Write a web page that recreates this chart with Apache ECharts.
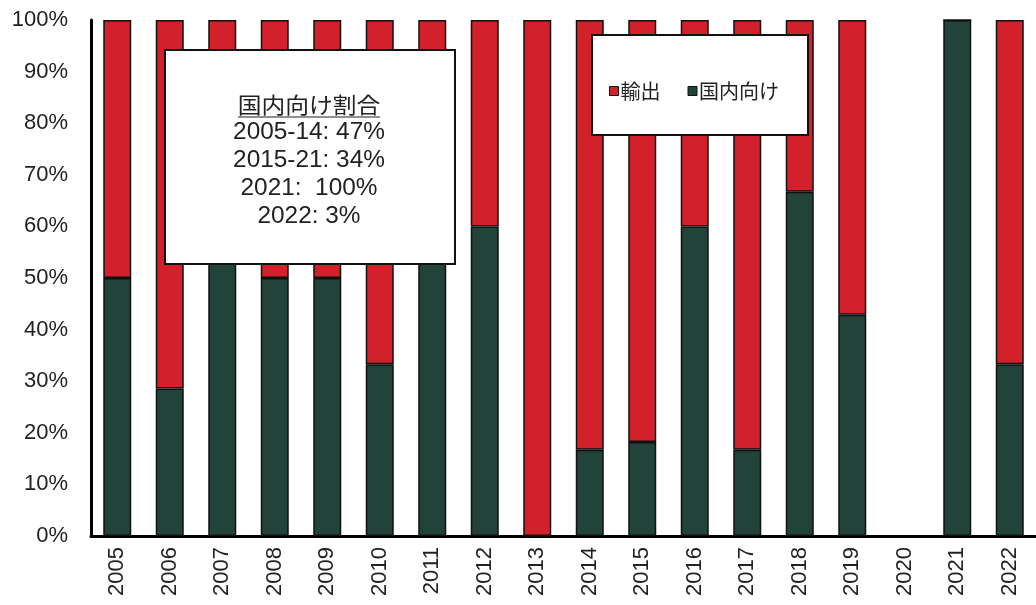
<!DOCTYPE html>
<html>
<head>
<meta charset="utf-8">
<script src="https://cdn.jsdelivr.net/npm/echarts@6/dist/echarts.min.js"></script>
<style>html,body{margin:0;padding:0;background:#fff}#c{width:1036px;height:605px}</style>
</head>
<body>
<div id="c"></div>
<script>
const categories = ['2005','2006','2007','2008','2009','2010','2011','2012','2013','2014','2015','2016','2017','2018','2019','2020','2021','2022'];
const domestic = [50, 28.6, 66.7, 50, 50, 33.3, 75, 60, 0, 16.7, 18.2, 60, 16.7, 66.7, 42.9, null, 100, 33.3];
const exportShare = [50, 71.4, 33.3, 50, 50, 66.7, 25, 40, 100, 83.3, 81.8, 40, 83.3, 33.3, 57.1, null, 0, 66.7];
const yTicks = [0, 10, 20, 30, 40, 50, 60, 70, 80, 90, 100];
const boxTitle = '国内向け割合';
const boxLines = ['2005-14: 47%', '2015-21: 34%', '2021:  100%', '2022: 3%'];

const RED = '#d2212a';
const GREEN = '#21433a';
const FONT = '"Liberation Sans", Arial, sans-serif';
const CJK = '"Noto Sans CJK JP", sans-serif';

const chart = echarts.init(document.getElementById('c'), null, {renderer: 'canvas'});

const graphics = [
  {type: 'rect', z: 100, shape: {x: 165, y: 50, width: 290, height: 214},
   style: {fill: '#fff', stroke: '#111', lineWidth: 2}},
  {type: 'text', z: 101, x: 309, y: 105, scaleX: 1.08,
   style: {text: boxTitle, x: 0, y: 0, align: 'center', verticalAlign: 'middle',
   font: '22px ' + CJK, fill: '#222'}},
  {type: 'line', z: 101, shape: {x1: 238, y1: 117, x2: 380, y2: 117}, style: {stroke: '#222', lineWidth: 1.2}},
  {type: 'rect', z: 100, shape: {x: 592, y: 35, width: 216, height: 100},
   style: {fill: '#fff', stroke: '#111', lineWidth: 2}}
];
boxLines.forEach((t, i) => {
  graphics.push({type: 'text', z: 101, x: 309, y: 133 + i * 28, scaleX: 1.06,
    style: {text: t, x: 0, y: 0, align: 'center',
    verticalAlign: 'middle', font: '23px ' + FONT, fill: '#222'}});
});

chart.setOption({
  animation: false,
  backgroundColor: '#fff',
  grid: {left: 91, right: -7, top: 20, bottom: 69, containLabel: false},
  legend: {
    data: ['輸出', '国内向け'],
    left: 604, top: 76,
    icon: 'rect', itemWidth: 9, itemHeight: 9, itemGap: 27,
    itemStyle: {borderColor: '#111', borderWidth: 1},
    textStyle: {fontFamily: CJK, fontSize: 20, color: '#222', padding: [0, 0, 0, -3]},
    z: 200
  },
  xAxis: {
    type: 'category', data: categories,
    axisLine: {show: true, lineStyle: {color: '#000', width: 3}},
    axisTick: {show: false},
    axisLabel: {rotate: 90, margin: 11, fontFamily: FONT, fontSize: 22, color: '#222', interval: 0}
  },
  yAxis: {
    type: 'value', min: 0, max: 100, interval: 10,
    axisLine: {show: true, lineStyle: {color: '#000', width: 3}},
    axisTick: {show: false},
    splitLine: {show: false},
    axisLabel: {formatter: v => yTicks.includes(v) ? v + '%' : '', margin: 23,
      fontFamily: FONT, fontSize: 22, color: '#222'}
  },
  series: [
    {name: '国内向け', type: 'bar', stack: 's', data: domestic, barWidth: 28,
     itemStyle: {color: GREEN, borderColor: '#111', borderWidth: 1.5}},
    {name: '輸出', type: 'bar', stack: 's', data: exportShare, barWidth: 28,
     itemStyle: {color: RED, borderColor: '#111', borderWidth: 1.5}}
  ],
  graphic: graphics
});
</script>
</body>
</html>
